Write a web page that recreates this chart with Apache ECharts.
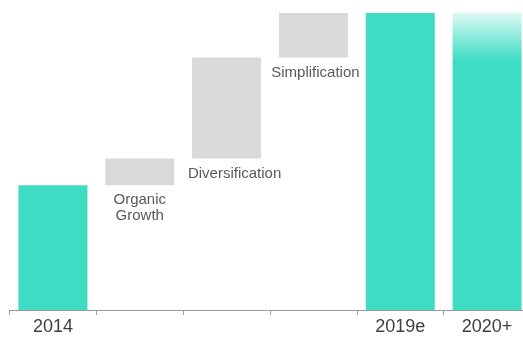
<!DOCTYPE html>
<html><head><meta charset="utf-8">
<script src="https://cdn.jsdelivr.net/npm/echarts@6/dist/echarts.min.js"></script>
<style>html,body{margin:0;padding:0;background:#fff}#c{width:523px;height:339px}</style>
</head><body><div id="c"></div>
<script>
const categories = ['2014', 'Organic\nGrowth', 'Diversification', 'Simplification', '2019e', '2020+'];
const tickLabels = ['2014', '', '', '', '2019e', '2020+'];
const baseOffsets = [0, 42, 51, 85, 0, 0];
const totals = [42, '-', '-', '-', 100, 100];
const steps = ['-', 9, 34, 15, '-', '-'];

const teal = '#3EDCC3';
const chart = echarts.init(document.getElementById('c'));
chart.setOption({
  animation: false,
  grid: {left: 9.5, right: -7.5, top: 13, bottom: 29, outerBoundsMode: 'none', containLabel: false},
  xAxis: {
    type: 'category',
    data: categories,
    axisLine: {lineStyle: {color: '#9a9a9a', width: 1}},
    axisTick: {show: true, length: 5, lineStyle: {color: '#9a9a9a'}},
    axisLabel: {
      formatter: (v, i) => tickLabels[i],
      fontFamily: 'Liberation Sans', fontSize: 18, color: '#404040', margin: 8
    }
  },
  yAxis: {type: 'value', min: 0, max: 100, show: false, splitLine: {show: false}},
  series: [
    {type: 'bar', stack: 's', data: baseOffsets, barWidth: 69,
     itemStyle: {color: 'transparent'}, silent: true},
    {type: 'bar', stack: 's', barWidth: 69,
     data: totals.map((v, i) => i === 5 ? {
        value: v,
        itemStyle: {color: {type: 'linear', x: 0, y: 0, x2: 0, y2: 1, colorStops: [
          {offset: 0, color: 'rgba(62,220,195,0.18)'},
          {offset: 0.16, color: teal},
          {offset: 1, color: teal}]}}
      } : v),
     itemStyle: {color: teal}},
    {type: 'bar', stack: 's', barWidth: 69,
     data: steps.map((v, i) => i === 2 ? {value: v, label: {offset: [8, 0]}}
                          : i === 3 ? {value: v, label: {offset: [2, 0]}} : v),
     itemStyle: {color: '#D9D9D9'},
     label: {show: true, position: 'bottom', distance: 7,
       formatter: p => categories[p.dataIndex],
       fontFamily: 'Liberation Sans', fontSize: 15, lineHeight: 16, color: '#5a5a5a'}}
  ]
});
</script></body></html>
